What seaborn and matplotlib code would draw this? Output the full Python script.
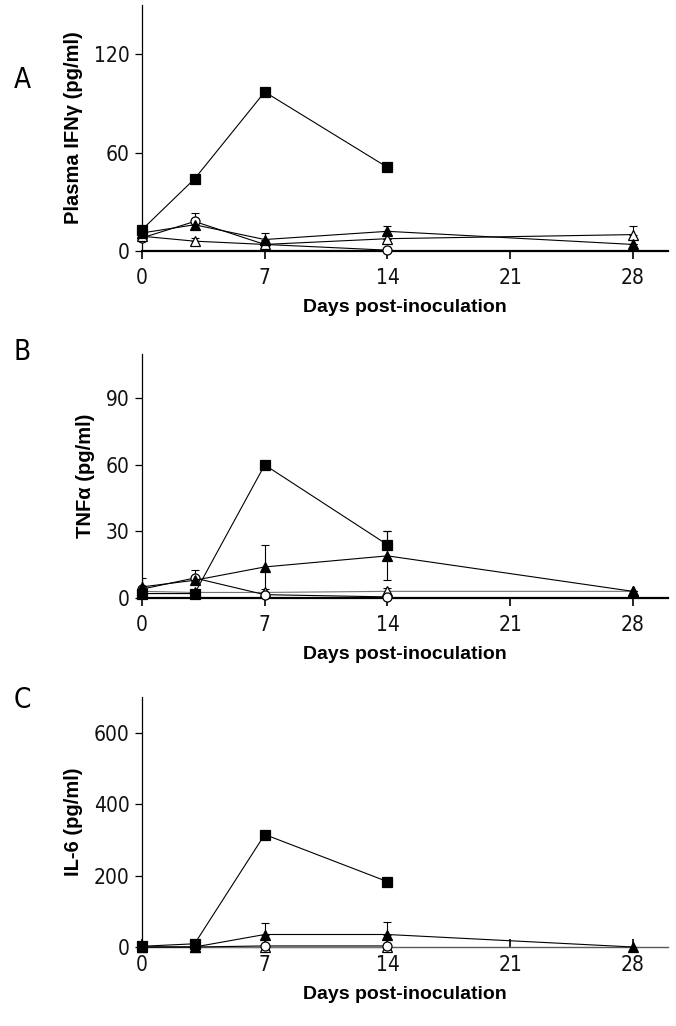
import matplotlib
matplotlib.use('Agg')
import matplotlib.pyplot as plt
import seaborn as sns
import numpy as np

nan = np.nan
days = [0, 3, 7, 14, 28]

# Panel A - plasma IFN-gamma
a_square = [13, 44, 97, 51, nan]
a_tri_fill = [11, 16, 7, 12, 4]
a_tri_fill_err = [0, 7, 4, 3, 0]
a_tri_open = [9, 6, 4, 7.5, 10]
a_tri_open_err = [0, 2, 0, 0, 5]
a_circle = [8, 18, 4, 0.5, nan]
a_circle_err = [2, 0, 0, 0, 0]

# Panel B - TNF-alpha
b_square = [2, 2, 60, 24, nan]
b_square_err = [0, 0, 0, 6, 0]
b_tri_fill = [5, 8, 14, 19, 3]
b_tri_fill_err = [4, 0, 10, 11, 0]
b_tri_open = [3, 2.5, 2.5, 3, 3]
b_tri_open_err = [0, 0, 0, 1.5, 0]
b_circle = [4, 9, 1.5, 0.5, nan]
b_circle_err = [0, 3.5, 0, 0, 0]

# Panel C - IL-6
c_square = [2, 9, 315, 183, nan]
c_tri_fill = [0, 0, 35, 35, 0]
c_tri_fill_err = [0, 0, 32, 36, 0]
c_tri_open = [0, 0, 0, 0, nan]
c_circle = [0, 0, 3, 3, nan]

narrow = ['DejaVu Sans']
bold = ['Liberation Sans', 'DejaVu Sans']

sns.set_style("ticks")
plt.rcParams['font.family'] = narrow
plt.rcParams['font.stretch'] = 'condensed'
plt.rcParams['text.color'] = 'black'
plt.rcParams['axes.labelcolor'] = 'black'

fig = plt.figure(figsize=(6.76, 10.26), dpi=100)
W, H = 676, 1026


def make_ax(top, bottom):
    return fig.add_axes([142 / W, 1 - bottom / H, (668 - 142) / W, (bottom - top) / H])


def series(ax, y, marker, filled, err=None, lc='black'):
    y = np.array(y, dtype=float)
    x = np.array(days, dtype=float)
    if err is not None:
        e = np.array(err, dtype=float)
        ax.errorbar(x, y, yerr=[np.zeros_like(e), e], fmt='none', ecolor='black',
                    elinewidth=0.8, capsize=3, capthick=0.8, zorder=2, clip_on=False)
    sns.lineplot(x=x, y=y, ax=ax, color=lc, linewidth=0.8, marker=marker,
                 markersize=7 if marker != 'o' else 6.5,
                 markerfacecolor='black' if filled else 'white',
                 markeredgecolor='black', markeredgewidth=0.9,
                 zorder=3, clip_on=False, errorbar=None)


def sym_err(ax, y, err):
    ax.errorbar(days, y, yerr=err, fmt='none', ecolor='black',
                elinewidth=0.8, capsize=3, capthick=0.8, zorder=2)


def style(ax, ymax, yticks, ylabel, letter, letter_y, xw=1.6, xcol='black', tickdir='out'):
    ax.set_xlim(0, 30)
    ax.set_ylim(0, ymax)
    ax.set_xticks([0, 7, 14, 21, 28])
    ax.set_yticks(yticks)
    sns.despine(ax=ax)
    ax.spines['left'].set_linewidth(0.9)
    ax.spines['left'].set_color('black')
    ax.spines['bottom'].set_linewidth(xw)
    ax.spines['bottom'].set_color(xcol)
    ax.tick_params(axis='x', direction=tickdir, length=6, width=1.2, labelsize=15, pad=6,
                   labelcolor='#111111', color='black')
    ax.tick_params(axis='y', direction='out', length=5, width=0.9, labelsize=15, pad=4,
                   labelcolor='#111111', color='black')
    ax.set_xlabel('Days post-inoculation', fontsize=14, fontweight='bold', family=bold,
                  labelpad=8, stretch='normal')
    ax.set_ylabel(ylabel, fontsize=14.5, fontweight='bold', family=bold, labelpad=8,
                  stretch='normal')
    fig.text(14 / W, 1 - letter_y / H, letter, fontsize=20, va='center', ha='left')


# A
axA = make_ax(5, 251)
series(axA, a_circle, 'o', False, a_circle_err)
series(axA, a_tri_open, '^', False, a_tri_open_err)
series(axA, a_tri_fill, '^', True, a_tri_fill_err)
series(axA, a_square, 's', True)
style(axA, 150, [0, 60, 120], 'Plasma IFN\u03b3 (pg/ml)', 'A', 80)

# B
axB = make_ax(354, 598)
series(axB, b_tri_open, '^', False, b_tri_open_err, lc='0.45')
series(axB, b_circle, 'o', False, b_circle_err)
series(axB, b_square, 's', True, b_square_err)
sym_err(axB, b_tri_fill, b_tri_fill_err)
series(axB, b_tri_fill, '^', True)
style(axB, 110, [0, 30, 60, 90], 'TNF\u03b1 (pg/ml)', 'B', 352)

# C
axC = make_ax(697, 947)
series(axC, c_tri_open, '^', False, lc='0.45')
series(axC, c_circle, 'o', False)
series(axC, c_square, 's', True)
series(axC, c_tri_fill, '^', True, c_tri_fill_err)
style(axC, 700, [0, 200, 400, 600], 'IL-6 (pg/ml)', 'C', 700, xw=1.0, xcol='0.35', tickdir='in')

fig.savefig('out.png', dpi=100)
